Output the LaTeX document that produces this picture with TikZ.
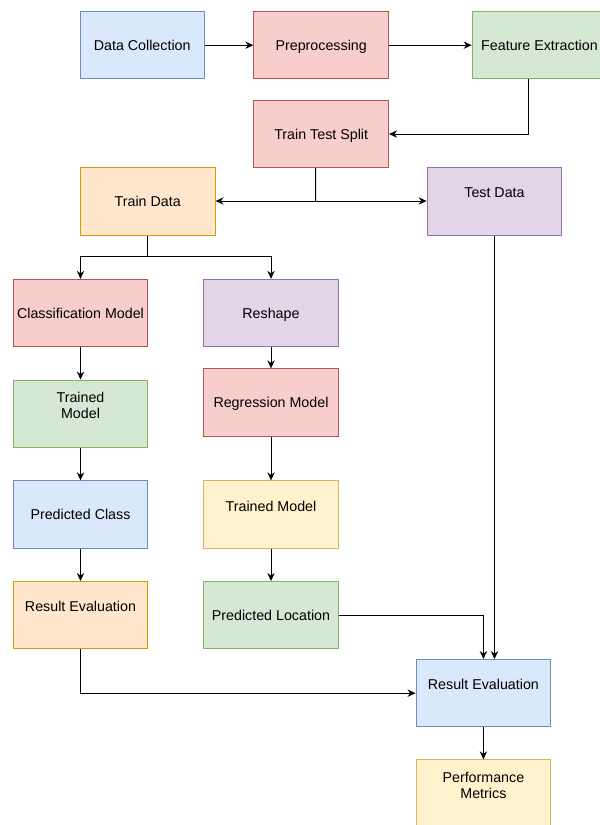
\documentclass[tikz,border=0pt]{standalone}
\usepackage{fontspec}
\setmainfont{Liberation Sans}
\usetikzlibrary{arrows.meta}
\definecolor{bluefill}{HTML}{DAE8FC}\definecolor{blueline}{HTML}{6C8EBF}
\definecolor{redfill}{HTML}{F8CECC}\definecolor{redline}{HTML}{B85450}
\definecolor{greenfill}{HTML}{D5E8D4}\definecolor{greenline}{HTML}{82B366}
\definecolor{orangefill}{HTML}{FFE6CC}\definecolor{orangeline}{HTML}{D79B00}
\definecolor{purplefill}{HTML}{E1D5E7}\definecolor{purpleline}{HTML}{9673A6}
\definecolor{yellowfill}{HTML}{FFF2CC}\definecolor{yellowline}{HTML}{D6B656}
\begin{document}
\begin{tikzpicture}
  [x=0.75pt,y=-0.75pt,line width=0.75pt,
   every node/.style={draw,rectangle,minimum width=101pt,minimum height=50.5pt,inner sep=0pt,
     align=center,text depth=0pt,font=\fontsize{10.7}{12}\selectfont},
   bluebox/.style={fill=bluefill,draw=blueline},
   redbox/.style={fill=redfill,draw=redline},
   greenbox/.style={fill=greenfill,draw=greenline},
   orangebox/.style={fill=orangefill,draw=orangeline},
   purplebox/.style={fill=purplefill,draw=purpleline},
   yellowbox/.style={fill=yellowfill,draw=yellowline},
   toptext/.style={text depth=13pt},
   arr/.style={-{Stealth[length=6pt,width=5.5pt]}}]
  \useasboundingbox (0,0) rectangle (600,825);
  \node[bluebox,minimum width=92.7pt] (dc) at (142.2,45.2) {Data Collection};
  \node[redbox] (pre) at (321.2,45.2) {Preprocessing};
  \node[greenbox] (fe) at (539.5,45.2) {Feature Extraction};
  \node[redbox] (tts) at (321.2,134) {Train Test Split};
  \node[orangebox] (train) at (147.7,201.5) {Train Data};
  \node[purplebox,toptext] (test) at (494.5,201.5) {Test Data};
  \node[redbox] (cls) at (80.5,313) {Classification Model};
  \node[purplebox] (resh) at (271,313) {Reshape};
  \node[greenbox,toptext] (tm1) at (80.5,413.7) {Trained\\Model};
  \node[redbox] (reg) at (271,402.5) {Regression Model};
  \node[bluebox] (pcls) at (80.5,514.5) {Predicted Class};
  \node[yellowbox,toptext] (tm2) at (271,514.5) {Trained Model};
  \node[orangebox,toptext] (rev1) at (80.5,615.2) {Result Evaluation};
  \node[greenbox] (ploc) at (271,615.2) {Predicted Location};
  \node[bluebox,toptext] (rev2) at (483.4,693.2) {Result Evaluation};
  \node[yellowbox,toptext] (perf) at (483.4,793.5) {Performance\\Metrics};
  \coordinate (split) at (315.7,201);
  \coordinate (fork) at (147.7,256.7);

  \foreach \from/\to in {dc/pre, pre/fe, cls/tm1, tm1/pcls, pcls/rev1, resh/reg, reg/tm2, tm2/ploc, rev2/perf}
    \draw[arr] (\from) -- (\to);
  \draw[arr] ([xshift=-8.6pt]fe.south) |- (tts.east);
  \draw ([xshift=-4.1pt]tts.south) -- (split);
  \draw[arr] (split) -- (split -| train.east);
  \draw[arr] (split) -- (split -| test.west);
  \draw (train.south) -- (fork);
  \draw[arr] (fork) -| (cls.north);
  \draw[arr] (fork) -| (resh.north);
  \draw[arr] (test.south) -- (test.south |- rev2.north);
  \draw[arr] (ploc.east) -| (rev2.north);
  \draw[arr] (rev1.south) |- (rev2.west);
\end{tikzpicture}
\end{document}
